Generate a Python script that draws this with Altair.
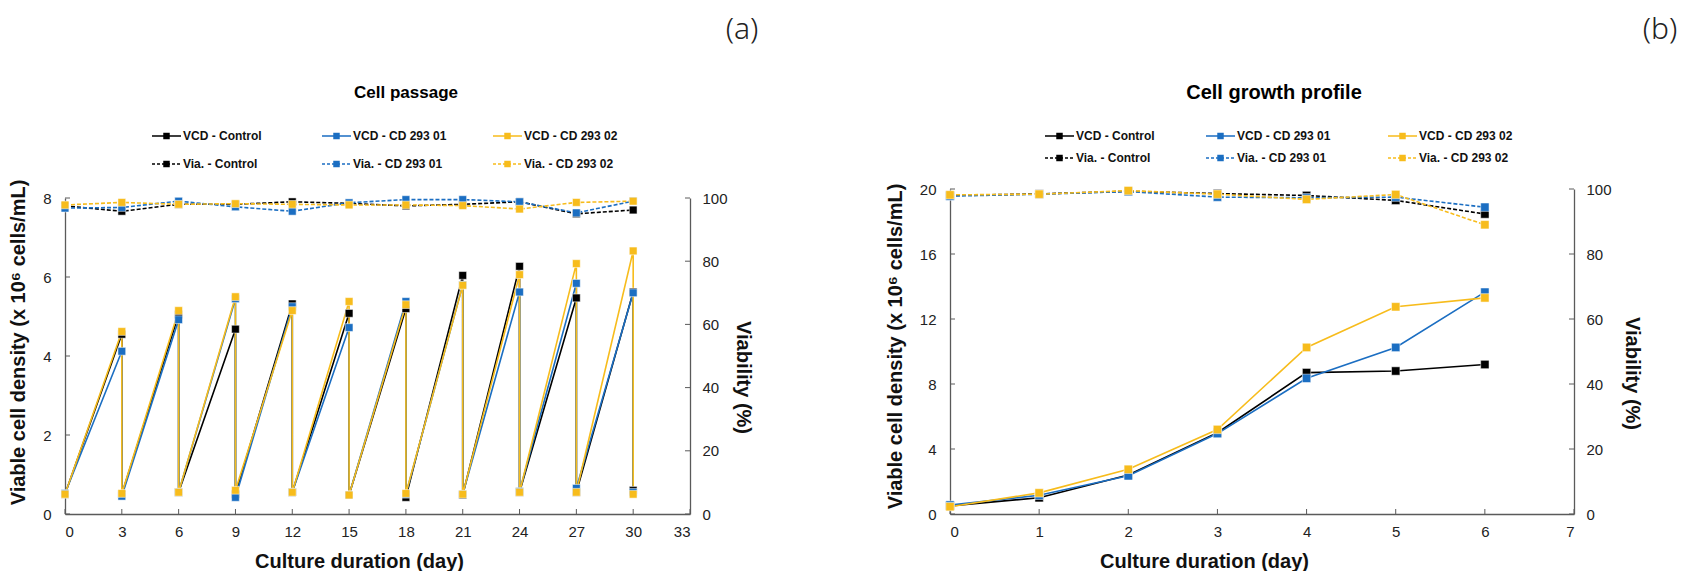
import altair as alt
import pandas as pd

# ---------------- data ----------------
series = ["Control", "CD 293 01", "CD 293 02"]
colors = ["#000000", "#1B6EC2", "#F7BC1C"]
legend_labels = ["VCD - Control", "VCD - CD 293 01", "VCD - CD 293 02",
                 "Via. - Control", "Via. - CD 293 01", "Via. - CD 293 02"]

# Panel (a): cell passage (sawtooth: peak then reset at each passage day)
a_vcd_days = [0, 3, 3, 6, 6, 9, 9, 12, 12, 15, 15, 18, 18, 21, 21, 24, 24, 27, 27, 30, 30]
a_vcd_control = [0.50, 4.55, 0.50, 5.05, 0.55, 4.68, 0.50, 5.32, 0.55, 5.08, 0.48,
                 5.20, 0.42, 6.04, 0.48, 6.27, 0.55, 5.47, 0.55, 5.62, 0.60]
a_vcd_cd01 = [0.52, 4.12, 0.45, 4.92, 0.55, 5.45, 0.42, 5.25, 0.55, 4.72, 0.48,
              5.38, 0.50, 5.80, 0.50, 5.62, 0.57, 5.84, 0.65, 5.60, 0.55]
a_vcd_cd02 = [0.50, 4.62, 0.52, 5.15, 0.55, 5.50, 0.60, 5.15, 0.55, 5.38, 0.48,
              5.30, 0.52, 5.79, 0.50, 6.06, 0.55, 6.34, 0.55, 6.66, 0.50]
a_via_days = [0, 3, 6, 9, 12, 15, 18, 21, 24, 27, 30]
a_via_control = [97.5, 95.8, 98.0, 98.0, 98.8, 98.3, 97.5, 98.0, 98.8, 95.0, 96.2]
a_via_cd01 = [96.8, 97.0, 99.0, 97.2, 95.8, 98.5, 99.5, 99.5, 98.8, 95.3, 99.0]
a_via_cd02 = [97.8, 98.6, 98.0, 98.2, 98.0, 97.8, 97.8, 97.6, 96.5, 98.6, 99.0]

# Panel (b): cell growth profile
b_days = [0, 1, 2, 3, 4, 5, 6]
b_vcd_control = [0.50, 1.00, 2.40, 5.00, 8.70, 8.80, 9.20]
b_vcd_cd01 = [0.55, 1.15, 2.35, 4.95, 8.35, 10.25, 13.65]
b_vcd_cd02 = [0.45, 1.30, 2.75, 5.20, 10.25, 12.75, 13.30]
b_via_control = [98.0, 98.5, 99.3, 98.6, 98.0, 96.5, 92.3]
b_via_cd01 = [97.8, 98.4, 99.2, 97.5, 97.3, 97.5, 94.4]
b_via_cd02 = [98.2, 98.4, 99.5, 98.4, 96.8, 98.3, 89.0]

a_x_ticks = [0, 3, 6, 9, 12, 15, 18, 21, 24, 27, 30, 33]
a_y_ticks = [0, 2, 4, 6, 8]
b_x_ticks = [0, 1, 2, 3, 4, 5, 6, 7]
b_y_ticks = [0, 4, 8, 12, 16, 20]
via_ticks = [0, 20, 40, 60, 80, 100]

AXIS_COLOR = "#5a5a5a"
FONT = "Liberation Sans"


def long_df(days, value_lists):
    rows = []
    for s, vals in zip(series, value_lists):
        for i, (d, v) in enumerate(zip(days, vals)):
            rows.append({"series": s, "day": d, "value": v, "i": i})
    return pd.DataFrame(rows)


def build_panel(vcd_days, vcd_vals, via_days, via_vals, x_max, x_ticks, y_max, y_ticks,
                W, H, letter, title, cfg):
    vcd_df = long_df(vcd_days, vcd_vals)
    via_df = long_df(via_days, via_vals)
    top = cfg["top"]

    col_enc = alt.Color("series:N", scale=alt.Scale(domain=series, range=colors), legend=None)
    x_enc = alt.X("day:Q", scale=alt.Scale(domain=[0, x_max], nice=False),
                  axis=alt.Axis(values=x_ticks, title="Culture duration (day)",
                                titleX=cfg["xt_x"], labelPadding=10, titlePadding=12))
    yl = alt.Y("value:Q", scale=alt.Scale(domain=[0, y_max], nice=False, range=[H, top]),
               axis=alt.Axis(values=y_ticks, orient="left",
                             title="Viable cell density (x 10\u2076 cells/mL)",
                             titleY=cfg["ylt_y"], labelPadding=14, titlePadding=cfg["yl_pad"]))
    yr = alt.Y("value:Q", scale=alt.Scale(domain=[0, 100], nice=False, range=[H, top]),
               axis=alt.Axis(values=via_ticks, orient="right", title="Viability (%)",
                             titleY=cfg["yrt_y"], labelPadding=12, titlePadding=cfg["yr_pad"]))

    vcd_base = alt.Chart(vcd_df).encode(x=x_enc, y=yl, color=col_enc)
    vcd_line = vcd_base.mark_line(strokeWidth=1.6).encode(order="i:Q")
    vcd_pts = vcd_base.mark_square(size=cfg["sq"], opacity=1, stroke="#ffffff", strokeWidth=0.5)
    xt = alt.Chart(pd.DataFrame({"day": x_ticks})).mark_rule(color=AXIS_COLOR, strokeWidth=1).encode(
        x=x_enc, y=alt.value(H), y2=alt.value(H - 5))
    ylt = alt.Chart(pd.DataFrame({"value": y_ticks})).mark_rule(color=AXIS_COLOR, strokeWidth=1).encode(
        y=yl, x=alt.value(0), x2=alt.value(5))
    vcd_layer = alt.layer(xt, ylt, vcd_line, vcd_pts)

    via_base = alt.Chart(via_df).encode(x=x_enc, y=yr, color=col_enc)
    via_line = via_base.mark_line(strokeWidth=1.6, strokeDash=[4, 2])
    via_pts = via_base.mark_square(size=cfg["sq"], opacity=1, stroke="#ffffff", strokeWidth=0.5)
    yrt = alt.Chart(pd.DataFrame({"value": via_ticks})).mark_rule(color=AXIS_COLOR, strokeWidth=1).encode(
        y=yr, x=alt.value(W - 5), x2=alt.value(W))
    via_layer = alt.layer(yrt, via_line, via_pts)

    # legend (two rows of three)
    leg_rows = []
    for k, lab in enumerate(legend_labels):
        r, c = divmod(k, 3)
        lx = cfg["leg_x"][c]
        ly = cfg["leg_y"][r]
        leg_rows.append({"label": lab, "series": series[c], "kind": ["VCD", "Via"][r],
                         "lx": lx, "lx2": lx + 29, "lxm": lx + 14.5, "ltx": lx + 31, "ly": ly})
    leg_df = pd.DataFrame(leg_rows)
    lbase = alt.Chart(leg_df)
    leg_rule = lbase.mark_rule(strokeWidth=1.6).encode(
        x=alt.X("lx:Q", scale=None), x2="lx2:Q", y=alt.Y("ly:Q", scale=None), color=col_enc,
        strokeDash=alt.StrokeDash("kind:N", scale=alt.Scale(domain=["VCD", "Via"], range=[[1, 0], [3, 2]]),
                                  legend=None))
    leg_sq = lbase.mark_square(size=42, opacity=1).encode(
        x=alt.X("lxm:Q", scale=None), y=alt.Y("ly:Q", scale=None), color=col_enc)
    leg_txt = lbase.mark_text(align="left", baseline="middle", font=FONT, fontSize=12,
                              fontWeight="bold", color="#111111").encode(
        x=alt.X("ltx:Q", scale=None), y=alt.Y("ly:Q", scale=None), text="label:N")

    ttl = alt.Chart(pd.DataFrame({"t": [title]})).mark_text(
        font=FONT, fontSize=cfg["title_fs"], fontWeight="bold", color="#000000", baseline="middle").encode(
        text="t:N", x=alt.value(cfg["title_x"]), y=alt.value(cfg["title_y"]))
    let = alt.Chart(pd.DataFrame({"t": [letter]})).mark_text(
        font="Noto Sans", fontSize=30, fontWeight=300, color="#222222", baseline="middle").encode(
        text="t:N", x=alt.value(cfg["let_x"]), y=alt.value(cfg["let_y"]))

    return alt.layer(vcd_layer, via_layer, leg_rule, leg_sq, leg_txt, ttl, let).resolve_scale(
        y="independent").properties(width=W, height=H)


cfg_a = {"top": 9, "xt_x": 294, "ylt_y": 153, "yl_pad": 14, "yrt_y": 188, "yr_pad": 5, "sq": 60,
         "leg_x": [87, 257, 428], "leg_y": [-53, -25], "title_x": 341, "title_y": -96, "title_fs": 17,
         "let_x": 677, "let_y": -159}
cfg_b = {"top": 0, "xt_x": 254, "ylt_y": 157, "yl_pad": 14, "yrt_y": 184, "yr_pad": 10, "sq": 70,
         "leg_x": [95, 256, 438], "leg_y": [-53, -31], "title_x": 324, "title_y": -96, "title_fs": 20,
         "let_x": 710, "let_y": -159}

panel_a = build_panel(a_vcd_days, [a_vcd_control, a_vcd_cd01, a_vcd_cd02],
                      a_via_days, [a_via_control, a_via_cd01, a_via_cd02],
                      33, a_x_ticks, 8, a_y_ticks, 625, 325, "(a)", "Cell passage", cfg_a)
panel_b = build_panel(b_days, [b_vcd_control, b_vcd_cd01, b_vcd_cd02],
                      b_days, [b_via_control, b_via_cd01, b_via_cd02],
                      7, b_x_ticks, 20, b_y_ticks, 624, 325, "(b)", "Cell growth profile", cfg_b)

chart = alt.hconcat(panel_a, panel_b, spacing=126).properties(
    padding={"left": 0, "top": 7, "right": 0, "bottom": 0}).configure_view(
    stroke=None).configure_axis(
    grid=False, ticks=False, domainColor=AXIS_COLOR, domainWidth=1.3,
    labelFont=FONT, labelFontSize=15, labelColor="#222222",
    titleFont=FONT, titleFontSize=20, titleFontWeight="bold", titleColor="#111111")

chart.save("out.html", embed_options={"renderer": "svg", "actions": False})
